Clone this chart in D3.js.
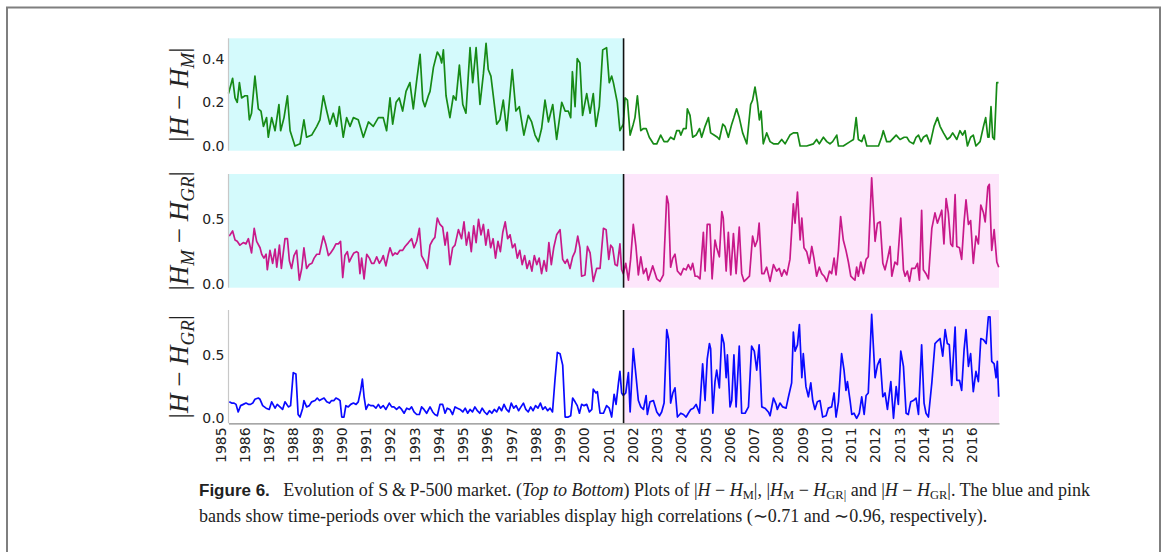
<!DOCTYPE html>
<html>
<head>
<meta charset="utf-8">
<script src="https://cdn.jsdelivr.net/npm/d3@7"></script>
<style>
body{margin:0;background:#fff;}
svg{display:block;}
</style>
</head>
<body>
<div class="figure-container"></div>
<script>
// ---------- Data ----------
// |H - H_M|  [year, value]
const hmData = [
[1985.29,0.24],[1985.46,0.31],[1985.56,0.22],[1985.65,0.20],[1985.74,0.29],[1985.83,0.22],[1985.97,0.23],[1986.07,0.23],[1986.15,0.12],[1986.24,0.15],[1986.38,0.32],[1986.52,0.17],[1986.63,0.16],[1986.73,0.09],[1986.86,0.13],[1986.93,0.04],[1987.07,0.13],[1987.21,0.07],[1987.37,0.19],[1987.44,0.07],[1987.58,0.13],[1987.72,0.23],[1987.83,0.07],[1988.03,0.00],[1988.24,0.01],[1988.40,0.12],[1988.51,0.04],[1988.72,0.05],[1988.93,0.09],[1989.06,0.12],[1989.20,0.23],[1989.34,0.16],[1989.47,0.10],[1989.61,0.15],[1989.75,0.09],[1989.86,0.18],[1990.02,0.04],[1990.16,0.13],[1990.30,0.09],[1990.44,0.13],[1990.64,0.12],[1990.85,0.04],[1991.06,0.11],[1991.26,0.09],[1991.47,0.13],[1991.67,0.13],[1991.81,0.07],[1991.95,0.22],[1992.06,0.10],[1992.20,0.20],[1992.33,0.22],[1992.47,0.16],[1992.61,0.25],[1992.77,0.29],[1992.91,0.17],[1993.05,0.30],[1993.19,0.42],[1993.30,0.21],[1993.39,0.18],[1993.53,0.23],[1993.60,0.25],[1993.74,0.36],[1993.90,0.43],[1994.01,0.41],[1994.08,0.38],[1994.15,0.44],[1994.26,0.23],[1994.42,0.13],[1994.56,0.23],[1994.67,0.21],[1994.81,0.37],[1994.95,0.19],[1995.08,0.15],[1995.25,0.45],[1995.36,0.29],[1995.50,0.45],[1995.66,0.19],[1995.80,0.33],[1995.91,0.47],[1996.00,0.35],[1996.11,0.32],[1996.35,0.10],[1996.48,0.12],[1996.62,0.21],[1996.76,0.07],[1996.87,0.20],[1996.99,0.35],[1997.14,0.16],[1997.28,0.18],[1997.47,0.05],[1997.65,0.14],[1997.79,0.11],[1997.93,0.05],[1998.07,0.02],[1998.20,0.08],[1998.34,0.21],[1998.48,0.11],[1998.66,0.19],[1998.82,0.03],[1999.03,0.20],[1999.17,0.16],[1999.30,0.16],[1999.40,0.13],[1999.47,0.34],[1999.58,0.18],[1999.67,0.40],[1999.78,0.38],[1999.89,0.14],[2000.06,0.24],[2000.20,0.15],[2000.33,0.24],[2000.44,0.09],[2000.58,0.18],[2000.72,0.44],[2000.88,0.45],[2000.99,0.29],[2001.09,0.32],[2001.16,0.29],[2001.32,0.20],[2001.43,0.07],[2001.57,0.10],[2001.64,0.22],[2001.74,0.21],[2001.85,0.05],[2001.98,0.10],[2002.05,0.13],[2002.15,0.23],[2002.29,0.07],[2002.40,0.08],[2002.51,0.08],[2002.64,0.04],[2002.81,0.01],[2002.95,0.01],[2003.11,0.05],[2003.25,0.02],[2003.39,0.02],[2003.52,0.04],[2003.66,0.03],[2003.77,0.07],[2003.88,0.07],[2003.94,0.05],[2004.05,0.08],[2004.16,0.08],[2004.21,0.17],[2004.32,0.14],[2004.43,0.04],[2004.57,0.05],[2004.71,0.08],[2004.80,0.04],[2004.94,0.09],[2005.08,0.13],[2005.17,0.06],[2005.31,0.05],[2005.45,0.04],[2005.53,0.03],[2005.67,0.10],[2005.76,0.09],[2005.90,0.04],[2006.04,0.10],[2006.13,0.13],[2006.24,0.17],[2006.35,0.13],[2006.49,0.06],[2006.66,0.01],[2006.82,0.19],[2006.90,0.21],[2007.00,0.27],[2007.10,0.20],[2007.18,0.12],[2007.25,0.16],[2007.34,0.01],[2007.48,0.06],[2007.62,0.02],[2007.76,0.01],[2007.96,0.01],[2008.10,0.03],[2008.24,0.01],[2008.44,0.05],[2008.58,0.06],[2008.75,0.06],[2008.86,0.00],[2009.13,0.00],[2009.41,0.01],[2009.54,0.03],[2009.65,0.01],[2009.82,0.04],[2009.96,0.02],[2010.09,0.01],[2010.20,0.02],[2010.37,0.05],[2010.44,0.00],[2010.64,0.00],[2010.92,0.02],[2011.06,0.03],[2011.17,0.13],[2011.26,0.03],[2011.40,0.02],[2011.50,0.05],[2011.61,0.00],[2011.88,0.00],[2012.09,0.00],[2012.22,0.04],[2012.29,0.07],[2012.43,0.02],[2012.57,0.02],[2012.82,0.05],[2012.98,0.03],[2013.15,0.04],[2013.26,0.04],[2013.37,0.02],[2013.53,0.01],[2013.64,0.04],[2013.74,0.05],[2013.85,0.02],[2013.94,0.04],[2014.08,0.05],[2014.22,0.01],[2014.38,0.09],[2014.52,0.13],[2014.63,0.09],[2014.77,0.06],[2014.93,0.03],[2015.04,0.04],[2015.15,0.06],[2015.32,0.03],[2015.45,0.07],[2015.56,0.05],[2015.66,0.07],[2015.76,0.00],[2015.89,0.04],[2016.00,0.05],[2016.11,0.00],[2016.28,0.02],[2016.42,0.09],[2016.51,0.13],[2016.60,0.04],[2016.65,0.04],[2016.73,0.18],[2016.80,0.04],[2016.87,0.03],[2016.97,0.29],[2017.04,0.29]
];

// |H_M - H_GR|
const hmgrData = [
[1985.32,0.37],[1985.46,0.41],[1985.56,0.34],[1985.65,0.33],[1985.76,0.30],[1985.90,0.32],[1986.01,0.31],[1986.11,0.35],[1986.24,0.24],[1986.35,0.43],[1986.45,0.33],[1986.59,0.28],[1986.66,0.23],[1986.75,0.20],[1986.84,0.23],[1986.89,0.11],[1987.00,0.26],[1987.11,0.16],[1987.21,0.27],[1987.28,0.13],[1987.39,0.30],[1987.47,0.12],[1987.62,0.35],[1987.72,0.35],[1987.80,0.18],[1987.89,0.12],[1987.99,0.22],[1988.10,0.26],[1988.21,0.03],[1988.31,0.12],[1988.40,0.28],[1988.51,0.12],[1988.62,0.15],[1988.73,0.16],[1988.82,0.20],[1988.93,0.23],[1989.04,0.23],[1989.20,0.37],[1989.30,0.31],[1989.41,0.22],[1989.50,0.24],[1989.61,0.27],[1989.72,0.31],[1989.82,0.31],[1989.91,0.33],[1990.00,0.05],[1990.09,0.22],[1990.19,0.25],[1990.27,0.17],[1990.37,0.21],[1990.46,0.24],[1990.57,0.25],[1990.64,0.24],[1990.71,0.08],[1990.78,0.20],[1990.88,0.04],[1990.99,0.23],[1991.10,0.20],[1991.19,0.16],[1991.29,0.16],[1991.40,0.21],[1991.51,0.16],[1991.61,0.19],[1991.67,0.22],[1991.78,0.14],[1991.88,0.23],[1991.95,0.28],[1992.06,0.22],[1992.16,0.24],[1992.25,0.23],[1992.36,0.26],[1992.47,0.26],[1992.57,0.29],[1992.71,0.32],[1992.84,0.35],[1992.94,0.28],[1993.05,0.33],[1993.16,0.43],[1993.25,0.22],[1993.39,0.17],[1993.49,0.12],[1993.60,0.30],[1993.71,0.34],[1993.80,0.36],[1993.90,0.51],[1994.01,0.46],[1994.12,0.44],[1994.22,0.30],[1994.31,0.40],[1994.42,0.15],[1994.53,0.28],[1994.63,0.30],[1994.77,0.42],
[1994.90,0.35],[1995.00,0.48],[1995.10,0.30],[1995.20,0.40],[1995.30,0.25],[1995.40,0.45],[1995.50,0.32],[1995.60,0.50],[1995.70,0.38],[1995.80,0.46],[1995.90,0.30],[1996.00,0.42],[1996.10,0.28],[1996.20,0.35],[1996.30,0.20],[1996.40,0.33],[1996.50,0.25],[1996.60,0.40],[1996.70,0.48],[1996.80,0.35],[1996.90,0.38],[1997.00,0.28],[1997.10,0.31],[1997.20,0.20],[1997.30,0.26],[1997.40,0.15],[1997.50,0.22],[1997.60,0.12],[1997.70,0.18],[1997.80,0.10],[1997.90,0.22],[1998.00,0.15],[1998.10,0.20],[1998.20,0.08],[1998.30,0.18],[1998.40,0.10],[1998.50,0.32],[1998.60,0.15],[1998.70,0.28],[1998.82,0.38],
[1998.96,0.42],[1999.07,0.19],[1999.17,0.16],[1999.26,0.19],[1999.37,0.12],[1999.48,0.21],[1999.58,0.25],[1999.69,0.37],[1999.78,0.28],[1999.85,0.06],[1999.99,0.07],[2000.09,0.29],[2000.20,0.24],[2000.33,0.02],[2000.47,0.12],[2000.61,0.12],[2000.75,0.43],[2000.86,0.42],[2000.97,0.19],[2001.05,0.30],[2001.13,0.28],[2001.23,0.15],[2001.32,0.14],[2001.43,0.31],[2001.50,0.11],[2001.57,0.08],[2001.67,0.16],[2001.78,0.03],[2001.87,0.19],[2001.98,0.46],[2002.09,0.29],[2002.19,0.07],[2002.29,0.21],[2002.40,0.08],[2002.51,0.12],[2002.60,0.03],[2002.78,0.14],[2002.95,0.04],[2003.08,0.02],[2003.22,0.07],[2003.36,0.68],[2003.43,0.62],[2003.52,0.13],[2003.61,0.20],[2003.70,0.23],[2003.80,0.10],[2003.94,0.07],[2004.05,0.12],[2004.16,0.11],[2004.25,0.15],[2004.35,0.11],[2004.43,0.16],[2004.53,0.06],[2004.62,0.06],[2004.73,0.04],[2004.87,0.40],[2004.94,0.10],[2005.03,0.46],[2005.14,0.46],[2005.23,0.04],[2005.35,0.34],[2005.42,0.28],[2005.53,0.21],[2005.63,0.56],[2005.69,0.51],[2005.81,0.10],[2005.90,0.40],[2006.00,0.07],[2006.11,0.39],[2006.22,0.08],[2006.35,0.44],[2006.45,0.08],[2006.55,0.02],[2006.66,0.04],[2006.77,0.06],[2006.90,0.37],[2007.00,0.29],[2007.10,0.34],[2007.17,0.47],[2007.28,0.08],[2007.37,0.08],[2007.48,0.13],[2007.62,0.02],[2007.76,0.15],[2007.89,0.10],[2008.00,0.12],[2008.10,0.06],[2008.20,0.11],[2008.31,0.07],[2008.44,0.19],[2008.58,0.62],[2008.65,0.47],[2008.75,0.71],[2008.86,0.34],[2008.93,0.51],[2009.02,0.28],[2009.13,0.25],[2009.24,0.16],[2009.34,0.29],[2009.43,0.20],[2009.54,0.06],[2009.65,0.13],[2009.75,0.08],[2009.85,0.06],[2009.96,0.02],[2010.07,0.10],[2010.16,0.08],[2010.26,0.20],[2010.34,0.07],[2010.44,0.26],[2010.53,0.52],[2010.64,0.34],[2010.75,0.26],[2010.85,0.17],[2010.95,0.06],[2011.06,0.04],[2011.12,0.03],[2011.19,0.13],[2011.26,0.06],[2011.36,0.17],[2011.47,0.08],[2011.58,0.19],[2011.67,0.21],[2011.81,0.82],[2011.95,0.33],[2012.05,0.47],[2012.16,0.48],[2012.27,0.16],[2012.36,0.11],[2012.46,0.19],[2012.57,0.29],[2012.64,0.06],[2012.77,0.17],[2012.87,0.15],[2013.01,0.51],[2013.12,0.11],[2013.19,0.06],[2013.28,0.10],[2013.37,0.02],[2013.46,0.12],[2013.60,0.12],[2013.70,0.16],[2013.78,0.03],[2013.87,0.57],[2013.94,0.11],[2014.05,0.08],[2014.15,0.04],[2014.29,0.43],[2014.42,0.55],[2014.52,0.47],[2014.63,0.53],[2014.70,0.57],[2014.79,0.31],[2014.88,0.66],[2014.97,0.55],[2015.07,0.31],[2015.15,0.29],[2015.25,0.69],[2015.32,0.29],[2015.43,0.28],[2015.52,0.19],[2015.62,0.48],[2015.70,0.65],[2015.80,0.46],[2015.89,0.49],[2016.00,0.16],[2016.11,0.37],[2016.21,0.31],[2016.31,0.61],[2016.42,0.55],[2016.49,0.48],[2016.60,0.75],[2016.66,0.77],[2016.76,0.26],[2016.86,0.42],[2016.97,0.17],[2017.05,0.13]
];

// |H - H_GR|
const hgrData = [
[1985.32,0.13],[1985.42,0.12],[1985.52,0.12],[1985.60,0.11],[1985.69,0.05],[1985.79,0.10],[1985.90,0.11],[1986.01,0.12],[1986.11,0.11],[1986.20,0.11],[1986.29,0.12],[1986.38,0.15],[1986.52,0.16],[1986.59,0.15],[1986.70,0.10],[1986.84,0.08],[1986.97,0.07],[1987.07,0.13],[1987.21,0.08],[1987.30,0.11],[1987.41,0.09],[1987.52,0.07],[1987.62,0.13],[1987.76,0.09],[1987.85,0.10],[1987.96,0.36],[1988.07,0.35],[1988.16,0.03],[1988.24,0.01],[1988.35,0.08],[1988.40,0.14],[1988.51,0.09],[1988.62,0.10],[1988.72,0.13],[1988.86,0.14],[1988.95,0.16],[1989.04,0.14],[1989.13,0.15],[1989.23,0.16],[1989.34,0.13],[1989.45,0.12],[1989.54,0.14],[1989.64,0.14],[1989.72,0.16],[1989.82,0.15],[1989.89,0.14],[1989.96,0.01],[1990.05,0.01],[1990.13,0.10],[1990.23,0.09],[1990.33,0.11],[1990.44,0.12],[1990.55,0.11],[1990.64,0.13],[1990.74,0.22],[1990.81,0.31],[1990.88,0.17],[1990.96,0.07],[1991.06,0.11],[1991.15,0.10],[1991.26,0.10],[1991.37,0.08],[1991.47,0.11],[1991.56,0.08],[1991.67,0.10],[1991.78,0.07],[1991.92,0.12],[1992.02,0.09],[1992.11,0.09],[1992.22,0.07],[1992.33,0.09],[1992.43,0.07],[1992.53,0.04],[1992.64,0.08],[1992.75,0.07],[1992.84,0.09],[1992.94,0.05],[1993.05,0.03],[1993.16,0.03],[1993.25,0.09],[1993.35,0.07],[1993.46,0.04],[1993.60,0.09],[1993.71,0.05],[1993.80,0.03],[1993.90,0.02],[1994.01,0.11],[1994.12,0.11],[1994.22,0.04],[1994.31,0.08],[1994.42,0.07],[1994.53,0.03],[1994.63,0.09],[1994.73,0.08],[1994.84,0.07],
[1994.95,0.05],[1995.05,0.08],[1995.15,0.04],[1995.25,0.07],[1995.35,0.05],[1995.45,0.09],[1995.55,0.06],[1995.65,0.04],[1995.75,0.08],[1995.85,0.05],[1995.95,0.03],[1996.05,0.06],[1996.15,0.04],[1996.25,0.07],[1996.35,0.05],[1996.45,0.09],[1996.55,0.06],[1996.65,0.11],[1996.75,0.07],[1996.85,0.05],[1996.95,0.12],[1997.05,0.08],[1997.15,0.10],[1997.25,0.06],[1997.35,0.09],[1997.45,0.12],[1997.55,0.07],[1997.65,0.05],[1997.75,0.09],[1997.85,0.06],[1997.95,0.10],[1998.05,0.08],[1998.15,0.12],[1998.25,0.07],[1998.35,0.09],[1998.45,0.06],[1998.55,0.08],[1998.65,0.05],[1998.75,0.30],[1998.85,0.52],
[1998.96,0.51],[1999.07,0.42],[1999.17,0.01],[1999.30,0.01],[1999.40,0.02],[1999.48,0.16],[1999.58,0.13],[1999.67,0.10],[1999.76,0.04],[1999.85,0.11],[1999.95,0.10],[2000.06,0.11],[2000.17,0.05],[2000.27,0.07],[2000.33,0.23],[2000.44,0.20],[2000.50,0.21],[2000.61,0.04],[2000.75,0.04],[2000.88,0.10],[2000.99,0.08],[2001.09,0.01],[2001.19,0.19],[2001.27,0.11],[2001.37,0.28],[2001.43,0.37],[2001.50,0.20],[2001.57,0.18],[2001.67,0.20],[2001.78,0.36],[2001.85,0.05],[2001.98,0.55],[2002.09,0.34],[2002.19,0.14],[2002.29,0.09],[2002.40,0.07],[2002.51,0.18],[2002.56,0.03],[2002.67,0.13],[2002.81,0.14],[2002.95,0.05],[2003.06,0.02],[2003.15,0.05],[2003.25,0.12],[2003.36,0.70],[2003.44,0.62],[2003.52,0.12],[2003.61,0.20],[2003.70,0.24],[2003.80,0.01],[2003.94,0.04],[2004.05,0.03],[2004.16,0.01],[2004.25,0.04],[2004.35,0.07],[2004.46,0.08],[2004.57,0.11],[2004.71,0.04],[2004.84,0.43],[2004.94,0.14],[2005.03,0.47],[2005.12,0.59],[2005.17,0.55],[2005.26,0.04],[2005.35,0.29],[2005.42,0.38],[2005.53,0.24],[2005.63,0.66],[2005.72,0.59],[2005.81,0.32],[2005.86,0.50],[2005.97,0.09],[2006.04,0.14],[2006.13,0.50],[2006.22,0.09],[2006.35,0.57],[2006.45,0.04],[2006.59,0.04],[2006.73,0.09],[2006.86,0.57],[2006.97,0.53],[2007.07,0.38],[2007.17,0.58],[2007.28,0.09],[2007.41,0.08],[2007.55,0.05],[2007.62,0.02],[2007.76,0.16],[2007.87,0.11],[2007.92,0.07],[2008.03,0.12],[2008.14,0.09],[2008.28,0.08],[2008.38,0.17],[2008.51,0.28],[2008.58,0.68],[2008.65,0.53],[2008.75,0.58],[2008.83,0.74],[2008.93,0.32],[2008.99,0.51],[2009.10,0.25],[2009.20,0.17],[2009.30,0.28],[2009.38,0.14],[2009.47,0.07],[2009.57,0.13],[2009.68,0.14],[2009.79,0.01],[2009.93,0.02],[2010.02,0.08],[2010.16,0.09],[2010.26,0.20],[2010.34,0.01],[2010.44,0.13],[2010.57,0.51],[2010.67,0.38],[2010.75,0.22],[2010.81,0.29],[2010.92,0.14],[2010.99,0.03],[2011.08,0.04],[2011.19,0.00],[2011.30,0.04],[2011.40,0.17],[2011.50,0.03],[2011.58,0.18],[2011.67,0.20],[2011.81,0.82],[2011.95,0.32],[2012.05,0.42],[2012.16,0.47],[2012.27,0.17],[2012.36,0.20],[2012.46,0.07],[2012.60,0.29],[2012.71,0.00],[2012.82,0.25],[2012.91,0.11],[2013.01,0.53],[2013.12,0.41],[2013.23,0.04],[2013.32,0.03],[2013.42,0.13],[2013.53,0.14],[2013.64,0.16],[2013.74,0.03],[2013.87,0.58],[2013.97,0.12],[2014.05,0.04],[2014.15,0.01],[2014.29,0.28],[2014.42,0.59],[2014.52,0.61],[2014.63,0.63],[2014.74,0.49],[2014.84,0.70],[2014.93,0.59],[2015.01,0.58],[2015.11,0.26],[2015.25,0.72],[2015.32,0.30],[2015.43,0.30],[2015.52,0.22],[2015.62,0.54],[2015.70,0.70],[2015.80,0.41],[2015.89,0.51],[2016.00,0.21],[2016.11,0.37],[2016.21,0.29],[2016.31,0.63],[2016.42,0.62],[2016.53,0.59],[2016.62,0.80],[2016.69,0.80],[2016.76,0.45],[2016.86,0.43],[2016.94,0.32],[2016.99,0.45],[2017.05,0.17]
];

// tick labels
const yearLabels = [1985,1986,1987,1988,1989,1990,1991,1992,1993,1994,1995,1996,1997,1998,1999,2000,2001,2002,2003,2004,2005,2006,2007,2008,2009,2010,2011,2012,2013,2014,2015,2016];
const ticksTop = [0.0, 0.2, 0.4];
const ticksMid = [0.0, 0.5];
const ticksBottom = [0.0, 0.5];

// time span of the plot and the split between the two correlation periods
const xExtent = [1985.29, 2017.06];
const splitYear = 2001.58;

// ---------- Layout ----------
const svg_width = 1165;
const svg_height = 552;
const plot_left = 228.5;
const plot_right = 999;

const colors = {
    cyan:'#d4fafc',
    pink:'#fde6fb',
    green:'#168a16',
    magenta:'#c8198a',
    blue:'#0a0aff'
};

// label parts: [text, style] style: n = normal, i = italic, s = italic subscript
const panels = [
    {data:hmData, color:colors.green, top:38.3, bottom:150.7, yDomain:[-0.0215,0.493], ticks:ticksTop,
     bands:[[xExtent[0], splitYear, colors.cyan]],
     label:[['|','n'],['H','i'],[' \u2212 ','n'],['H','i'],['M','s'],['|','n']]},
    {data:hmgrData, color:colors.magenta, top:174, bottom:287.7, yDomain:[-0.0286,0.85], ticks:ticksMid,
     bands:[[xExtent[0], splitYear, colors.cyan],[splitYear, xExtent[1], colors.pink]],
     label:[['|','n'],['H','i'],['M','s'],[' \u2212 ','n'],['H','i'],['GR','s'],['|','n']]},
    {data:hgrData, color:colors.blue, top:310, bottom:423.3, yDomain:[-0.0395,0.855], ticks:ticksBottom,
     bands:[[splitYear, xExtent[1], colors.pink]],
     label:[['|','n'],['H','i'],[' \u2212 ','n'],['H','i'],['GR','s'],['|','n']]}
];

const svg = d3.select('.figure-container').append('svg')
    .attr('width', svg_width).attr('height', svg_height);

svg.append('rect').attr('width', svg_width).attr('height', svg_height).attr('fill', '#fff');

// figure frame (bottom edge runs off the page)
svg.append('path')
    .attr('d', `M7,560 V7.5 H1160 V560`)
    .attr('fill','none').attr('stroke','#7f7f7f').attr('stroke-width',2);

const xScale = d3.scaleLinear().domain(xExtent).range([plot_left, plot_right]);

// append label made of styled pieces
function addMathLabel(g, parts, size){
    let shifted = false;
    parts.forEach(p => {
        const t = g.append('tspan').text(p[0]);
        if(p[1] === 'i' || p[1] === 's') t.style('font-style','italic');
        if(p[1] === 's'){
            t.style('font-size', (size*0.7)+'px');
            if(!shifted){ t.attr('dy', size*0.22); shifted = true; }
        } else {
            t.style('font-size', size+'px');
            if(shifted){ t.attr('dy', -size*0.22); shifted = false; }
        }
    });
}

panels.forEach((p, i) => {
    const yScale = d3.scaleLinear().domain(p.yDomain).range([p.bottom, p.top]);
    const g = svg.append('g').attr('class', `panel panel-${i}`);

    // shaded correlation bands
    g.selectAll('.band').data(p.bands).enter()
        .append('rect')
        .attr('class','band')
        .attr('x', d => xScale(d[0]))
        .attr('width', d => xScale(d[1]) - xScale(d[0]))
        .attr('y', p.top)
        .attr('height', p.bottom - p.top)
        .attr('fill', d => d[2]);

    // series line
    const lineGen = d3.line().x(d => xScale(d[0])).y(d => yScale(d[1]));
    g.append('path')
        .attr('d', lineGen(p.data))
        .attr('fill','none')
        .attr('stroke', p.color)
        .attr('stroke-width', 1.7)
        .attr('stroke-linejoin','round');

    // split marker
    g.append('line')
        .attr('x1', xScale(splitYear)).attr('x2', xScale(splitYear))
        .attr('y1', p.top).attr('y2', p.bottom)
        .attr('stroke','#111').attr('stroke-width',1.6);

    // y axis
    const yAxis = d3.axisLeft(yScale).tickValues(p.ticks).tickSize(0).tickPadding(4)
        .tickFormat(d3.format('.1f'));
    const yAxisDraw = g.append('g').attr('transform', `translate(${plot_left},0)`).call(yAxis);
    yAxisDraw.select('.domain').remove();
    yAxisDraw.selectAll('text')
        .style('font-family','"DejaVu Sans", sans-serif')
        .style('font-size','14px')
        .style('fill','#222');

    // left spine
    g.append('line')
        .attr('x1', plot_left).attr('x2', plot_left)
        .attr('y1', p.top).attr('y2', p.bottom)
        .attr('stroke','#c8c8c8').attr('stroke-width',1.2);

    // y label
    const cy = (p.top + p.bottom) / 2;
    const lab = g.append('text')
        .attr('transform', `translate(188,${cy}) rotate(-90)`)
        .attr('text-anchor','middle')
        .style('font-family','"Liberation Serif", "DejaVu Serif", serif')
        .style('fill','#222');
    addMathLabel(lab, p.label, 27);
});

// x axis under the last panel
const last = panels[panels.length - 1];
const xAxis = d3.axisBottom(xScale).tickValues(yearLabels).tickSize(0).tickFormat(d3.format('d'));
const xAxisDraw = svg.append('g')
    .attr('class','x axis')
    .attr('transform', `translate(0,${last.bottom})`)
    .call(xAxis);
xAxisDraw.select('.domain').attr('stroke','#8a8a8a').attr('stroke-width',1.2);
xAxisDraw.selectAll('text')
    .attr('transform','rotate(-90)')
    .attr('text-anchor','end')
    .attr('x', -4)
    .attr('y', 0)
    .attr('dy','0.26em')
    .style('font-family','"DejaVu Sans", sans-serif')
    .style('font-size','14px')
    .style('fill','#222');

// ---------- Caption ----------
const captionLines = [
    [['Figure 6.','b'],['\u2002 Evolution of S\u2009&\u2009P-500 market. (','n'],['Top to Bottom','i'],[') Plots of |','n'],['H','i'],[' \u2212 ','n'],['H','i'],['M','r'],['|, |','n'],['H','i'],['M','r'],[' \u2212 ','n'],['H','i'],['GR|','r'],[' and |','n'],['H','i'],[' \u2212 ','n'],['H','i'],['GR','r'],['|. The blue and pink','n']],
    [['bands show time-periods over which the variables display high correlations (\u223c0.71 and \u223c0.96, respectively).','n']]
];
const captionBase = [496, 522];

captionLines.forEach((parts, i) => {
    const t = svg.append('text')
        .attr('x', 199).attr('y', captionBase[i])
        .style('font-family','"Liberation Serif", serif')
        .style('font-size','18px')
        .style('fill','#222');
    let shifted = false;
    parts.forEach(p => {
        const s = t.append('tspan').text(p[0]);
        if(p[1] === 'b') s.style('font-weight','bold').style('font-family','"Liberation Sans", sans-serif').style('font-size','17px');
        if(p[1] === 'i') s.style('font-style','italic');
        if(p[1] === 'r'){
            s.style('font-size','12.5px');
            if(!shifted){ s.attr('dy', 3); shifted = true; }
        } else if(shifted){
            s.attr('dy', -3); shifted = false;
        }
    });
});
</script>
</body>
</html>
